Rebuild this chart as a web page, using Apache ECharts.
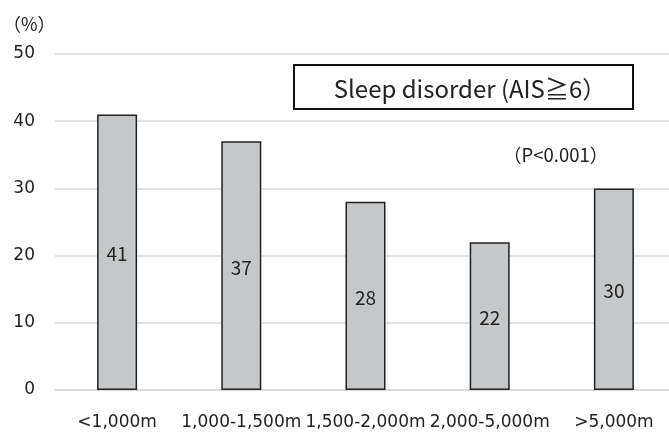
<!DOCTYPE html>
<html><head><meta charset="utf-8">
<script src="https://cdn.jsdelivr.net/npm/echarts@6/dist/echarts.min.js"></script>
<style>html,body{margin:0;padding:0;background:#fff;overflow:hidden;width:669px;height:432px}#c{width:680px;height:432px}</style>
</head><body><div id="c"></div>
<script>
const categories = ['<1,000m', '1,000-1,500m', '1,500-2,000m', '2,000-5,000m', '>5,000m'];
const values = [41, 37, 28, 22, 30];
const yTicks = [0, 10, 20, 30, 40, 50];
const titleText = 'Sleep disorder (AIS≧6）';
const noteText = '（P<0.001）';
const unitText = '（%）';

const CJK = '"Noto Sans CJK JP", "Noto Sans", sans-serif';
const LAT = '"DejaVu Sans", "Noto Sans CJK JP", sans-serif';
const chart = echarts.init(document.getElementById('c'));
chart.setOption({
  animation: false,
  textStyle: { fontFamily: CJK },
  title: [{
    text: noteText,
    left: 498, top: 141,
    textStyle: { fontFamily: CJK, fontSize: 18.5, fontWeight: 'normal', color: '#222' }
  }, {
    text: unitText,
    left: -2, top: 10,
    textStyle: { fontFamily: CJK, fontSize: 18, fontWeight: 'normal', color: '#222' }
  }],
  graphic: [{
    type: 'rect',
    shape: { x: 294, y: 65, width: 339, height: 44 },
    style: { fill: '#fff', stroke: '#111', lineWidth: 2 },
    z: 10
  }, {
    type: 'text',
    x: 470, y: 89,
    style: {
      text: titleText, fill: '#222', font: '24px ' + CJK,
      textAlign: 'center', textVerticalAlign: 'middle'
    },
    z: 11
  }],
  grid: { left: 55, top: 54, bottom: 42, width: 621, containLabel: false },
  xAxis: {
    type: 'category',
    data: categories,
    axisLine: { show: true, lineStyle: { color: '#d9d9d9', width: 1.5 } },
    axisTick: { show: false },
    axisLabel: { interval: 0, fontSize: 17, color: '#222', margin: 24, fontFamily: LAT }
  },
  yAxis: {
    type: 'value',
    min: yTicks[0], max: yTicks[yTicks.length - 1], interval: 10,
    axisLine: { show: false },
    axisTick: { show: false },
    splitLine: { lineStyle: { color: '#d9d9d9', width: 1.5 } },
    axisLabel: { fontSize: 17, color: '#222', margin: 20, fontFamily: LAT }
  },
  series: [{
    type: 'bar',
    data: values,
    barWidth: 40,
    itemStyle: { color: '#c6c7c8', borderColor: '#222', borderWidth: 1.5 },
    label: { show: true, position: 'inside', offset: [0, 2], fontSize: 19, color: '#222', fontFamily: CJK }
  }]
});
</script></body></html>
